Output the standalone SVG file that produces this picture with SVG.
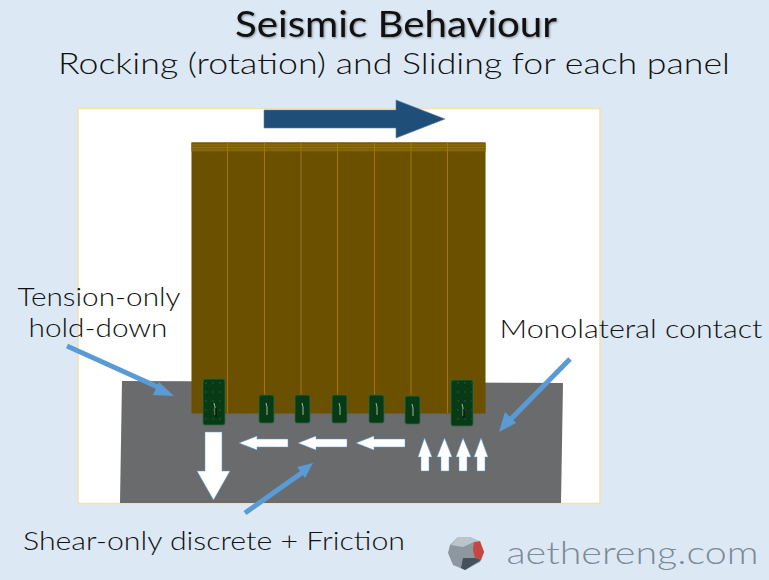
<svg xmlns="http://www.w3.org/2000/svg" width="769" height="580" viewBox="0 0 769 580">
<defs>
<pattern id="dots" width="7" height="9" patternUnits="userSpaceOnUse" x="204" y="381"><circle cx="2" cy="2" r=".7" fill="#2f6b2c"/></pattern>
</defs>
<style>
text{font-family:"Lato","Liberation Sans",sans-serif;font-weight:300;fill:#111}
.lbl{font-size:26px}
.plate{fill:#073a15;stroke:#2a6a45;stroke-width:.8}
.dots{fill:url(#dots);stroke:none}
.seam{stroke:#a07800;stroke-width:1}
.w{fill:#fff;stroke:#5b9bd5;stroke-width:.5}
.leader{stroke:#5b9bd5;stroke-width:5;fill:none}
.head{fill:#5b9bd5}
.slit{stroke:#9db7a2;stroke-width:1;fill:none}
.slit2{stroke:#0a1a0c;stroke-width:1.500;fill:none}
</style>
<rect width="769" height="580" fill="#dce9f5"/>
<rect x="78" y="108.500" width="522" height="395" fill="#fff" stroke="#f5deb0" stroke-width="1.500"/>
<polygon points="122,381 563,383 561,503 120,503" fill="#6a6b6d"/>
<g id="wall">
<rect x="191.500" y="142.500" width="294" height="271" fill="#6b5000"/>
<rect x="191.500" y="142.500" width="294" height="9" fill="#7a5c00"/>
<path d="M191.500 145H485.500M191.500 147.500H485.500M191.500 150H485.500" stroke="#a07a00" stroke-width=".8"/>
<path class="seam" d="M227.500 143V413M264.500 143V395M301 143V395M337.500 143V395M374.500 143V395M411 143V395M447.500 143V413"/>
</g>
<g id="hold-down-left"><rect class="plate" x="203" y="379" width="22" height="46" rx="2"/><rect class="dots" x="204" y="380" width="20" height="44"/><path class="slit" d="M214 403l1 4v8"/><path class="slit2" d="M216 408v9"/></g>
<g id="hold-down-right"><rect class="plate" x="451" y="380" width="22" height="46" rx="2"/><rect class="dots" x="452" y="381" width="20" height="44"/><path class="slit" d="M462 404l1 4v8"/><path class="slit2" d="M464 409v9"/></g>
<g id="shear-1"><rect class="plate" x="259" y="395" width="15" height="28" rx="2"/><path class="slit" d="M266 403l1 4v8"/></g>
<g id="shear-2"><rect class="plate" x="295" y="395" width="15" height="28" rx="2"/><path class="slit" d="M302 403l1 4v8"/></g>
<g id="shear-3"><rect class="plate" x="332" y="395" width="15" height="28" rx="2"/><path class="slit" d="M339 403l1 4v8"/></g>
<g id="shear-4"><rect class="plate" x="369" y="395" width="15" height="28" rx="2"/><path class="slit" d="M376 403l1 4v8"/></g>
<g id="shear-5"><rect class="plate" x="405" y="396" width="15" height="28" rx="2"/><path class="slit" d="M412 404l1 4v8"/></g>
<g id="connectors">
<polygon points="264,110 396,110 396,100 445,119 396,138 396,128 264,128" fill="#1f4e79" stroke="#5a82a8" stroke-width=".6"/>
<polygon class="w" points="205,432 222,432 222,471 230,471 213.500,500 197,471 205,471"/>
<polygon class="w" points="288,439 257,439 257,436 239,443 257,450 257,447 288,447"/>
<polygon class="w" points="347,439 316,439 316,436 298,443 316,450 316,447 347,447"/>
<polygon class="w" points="405,439 374,439 374,436 356,443 374,450 374,447 405,447"/>
<polygon class="w" points="421,471 421,457 418,457 424.500,438 432,457 429,457 429,471"/>
<polygon class="w" points="441,471 441,457 437,457 444.500,438 452,457 449,457 449,471"/>
<polygon class="w" points="459,471 459,457 456,457 463,438 471,457 467,457 467,471"/>
<polygon class="w" points="477,471 477,457 474,457 481,438 488,457 485,457 485,471"/>
<path class="leader" d="M67 346L160 388"/><polygon class="head" points="174,396 153,395 159,382"/>
<path class="leader" d="M570 359L510 420"/><polygon class="head" points="499,432 505,412 516,423"/>
<path class="leader" d="M245 513L303 472"/><polygon class="head" points="313,463 305,478 297,467"/>
</g>
<g id="labels">
<text x="396" y="37" text-anchor="middle" font-size="37" textLength="322" lengthAdjust="spacingAndGlyphs" style="font-weight:400;filter:drop-shadow(1px 1px 1px #8a9199)">Seismic Behaviour</text>
<text x="394" y="74" text-anchor="middle" font-size="30" textLength="672" lengthAdjust="spacingAndGlyphs">Rocking (rotation) and Sliding for each panel</text>
<text class="lbl" x="99" y="306" text-anchor="middle" textLength="163" lengthAdjust="spacingAndGlyphs">Tension-only</text>
<text class="lbl" x="98" y="337" text-anchor="middle" textLength="139" lengthAdjust="spacingAndGlyphs">hold-down</text>
<text class="lbl" x="631" y="338" text-anchor="middle" textLength="263" lengthAdjust="spacingAndGlyphs">Monolateral contact</text>
<text class="lbl" x="214" y="550" text-anchor="middle" textLength="382" lengthAdjust="spacingAndGlyphs">Shear-only discrete + Friction</text>
</g>
<g id="logo">
<polygon points="458,537 470,537 480,542 484,552 480,562 465,570 453,565 448,553 450,545" fill="#8d979f"/>
<polygon points="474,542 480,541 484,552 481,560 475,558 473,550" fill="#c9453f"/>
<polygon points="458,537 470,537 480,541 474,542 463,547 451,545" fill="#bcc4cb"/>
<polygon points="463,558 475,558 481,560 465,570 461,568" fill="#44505c"/>
<text x="632.500" y="564" text-anchor="middle" font-size="31" textLength="252" lengthAdjust="spacingAndGlyphs" style="fill:#7d8a97">aethereng.com</text>
</g>
</svg>
